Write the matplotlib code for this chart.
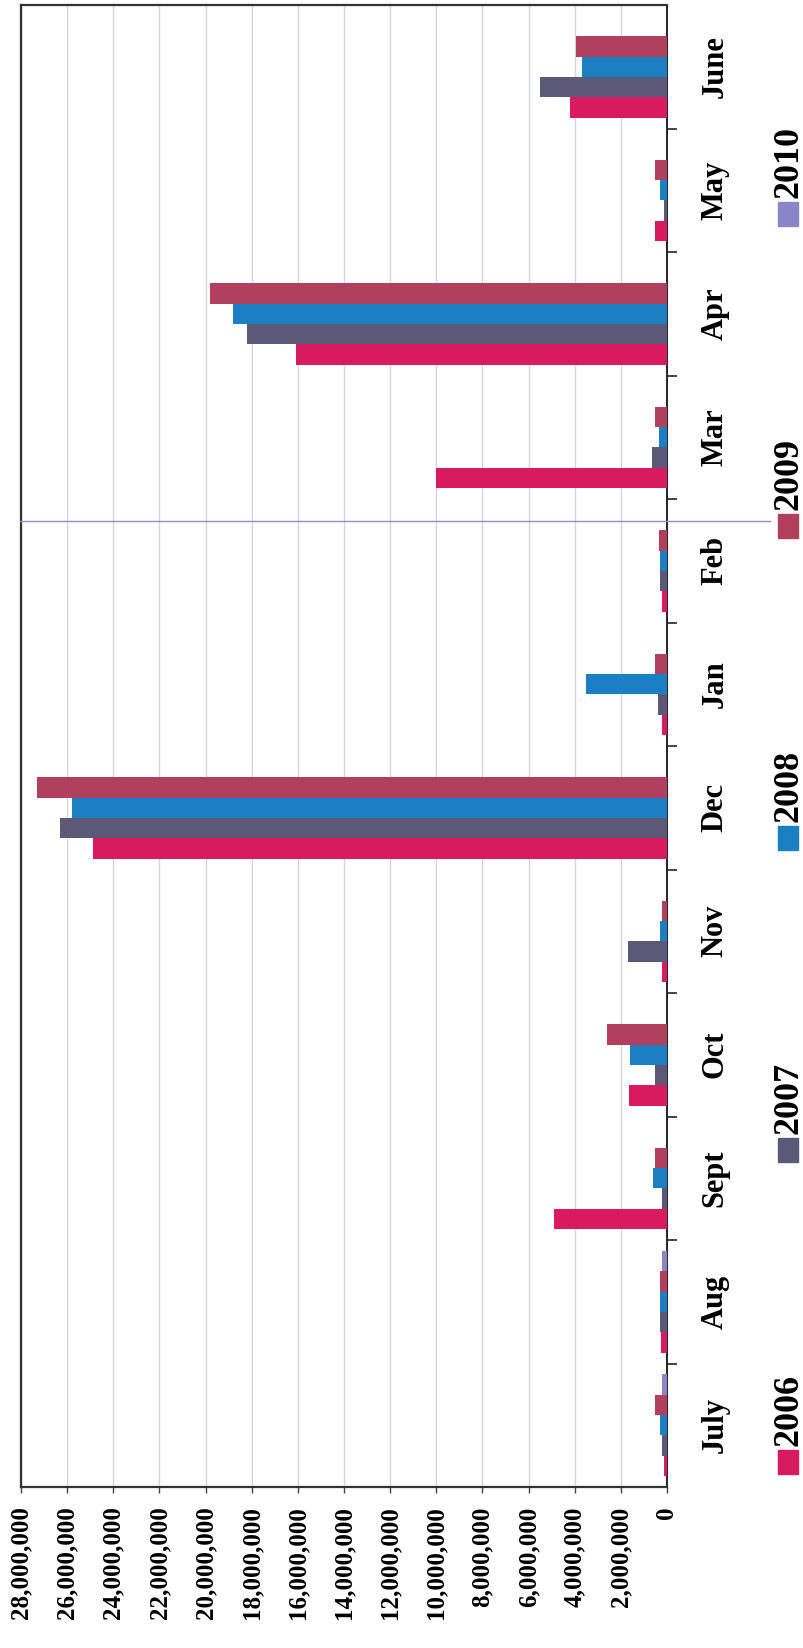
import matplotlib
matplotlib.use("Agg")
import matplotlib.pyplot as plt
import numpy as np
from matplotlib.lines import Line2D
from matplotlib.patches import Rectangle

# fiscal-year months, original x-axis order (drawn bottom -> top after rotation)
months = ["July", "Aug", "Sept", "Oct", "Nov", "Dec",
          "Jan", "Feb", "Mar", "Apr", "May", "June"]
years = ["2006", "2007", "2008", "2009", "2010"]

# values in units
v2006 = [0.15e6, 0.25e6, 4.9e6, 1.65e6, 0.2e6, 24.9e6,
         0.2e6, 0.2e6, 10.0e6, 16.1e6, 0.5e6, 4.2e6]
v2007 = [0.2e6, 0.3e6, 0.2e6, 0.5e6, 1.7e6, 26.3e6,
         0.4e6, 0.3e6, 0.65e6, 18.2e6, 0.15e6, 5.5e6]
v2008 = [0.3e6, 0.3e6, 0.6e6, 1.6e6, 0.3e6, 25.8e6,
         3.5e6, 0.3e6, 0.35e6, 18.8e6, 0.3e6, 3.7e6]
v2009 = [0.5e6, 0.3e6, 0.5e6, 2.6e6, 0.2e6, 27.3e6,
         0.5e6, 0.35e6, 0.5e6, 19.8e6, 0.5e6, 3.95e6]
v2010 = [0.2e6, 0.2e6, 0, 0, 0, 0, 0, 0, 0, 0, 0, 0]

series = [v2006, v2007, v2008, v2009, v2010]
colors = ["#D81B5E", "#5C5878", "#1A7FC3", "#B0405E", "#8A86C6"]
value_ticks = np.arange(0, 28_000_001, 2_000_000)

W, H = 804, 1648
plt.rcParams["font.family"] = ["Liberation Serif", "DejaVu Serif"]
plt.rcParams["font.weight"] = "bold"

fig = plt.figure(figsize=(W / 100, H / 100), dpi=100)
ax = fig.add_axes([21 / W, 1 - 1487 / H, (667 - 21) / W, (1487 - 5) / H])

ypos = np.arange(len(months))
bw = 0.165
for i, (vals, col) in enumerate(zip(series, colors)):
    ax.barh(ypos + (i - 2) * bw, vals, height=bw, color=col, linewidth=0, zorder=3)

# values grow to the left (chart was scanned rotated)
ax.set_xlim(value_ticks[-1], 0)
ax.set_ylim(-0.5, len(months) - 0.5)
ax.set_xticks(value_ticks)
ax.set_xticklabels([f"{int(v):,}" for v in value_ticks], rotation=90, fontsize=18)
ax.tick_params(axis="x", length=4, width=1, pad=10, color="#444444")
ax.grid(axis="x", color="#D6D6D6", lw=1.0, zorder=0)

ax.yaxis.tick_right()
ax.set_yticks(ypos)
ax.set_yticklabels(months, rotation=90, va="center", fontsize=22)
ax.set_yticks(np.arange(0.5, len(months) - 1, 1.0), minor=True)
ax.tick_params(axis="y", which="major", length=0, pad=24)
ax.tick_params(axis="y", which="minor", length=7, width=1.2, color="#222222")

for side in ["left", "top", "bottom"]:
    ax.spines[side].set_color("#333333")
    ax.spines[side].set_linewidth(1.6)
ax.spines["right"].set_color("#222222")
ax.spines["right"].set_linewidth(1.4)

# legend, rotated like the rest of the scan
for i, (yr, col) in enumerate(zip(years, colors)):
    yc = 1462 - 312 * i
    fig.patches.append(Rectangle((778 / W, 1 - (yc + 12) / H), 20 / W, 24 / H,
                                 transform=fig.transFigure, color=col))
    fig.text(789 / W, 1 - (yc - 16) / H, yr, rotation=90, ha="center",
             va="bottom", fontsize=26)

# faint blue scanner line across the page
fig.add_artist(Line2D([20 / W, 770 / W], [1 - 521 / H, 1 - 521 / H],
                      transform=fig.transFigure, color="#8C8CE6", lw=1.0))

fig.savefig("out.png", dpi=100)
